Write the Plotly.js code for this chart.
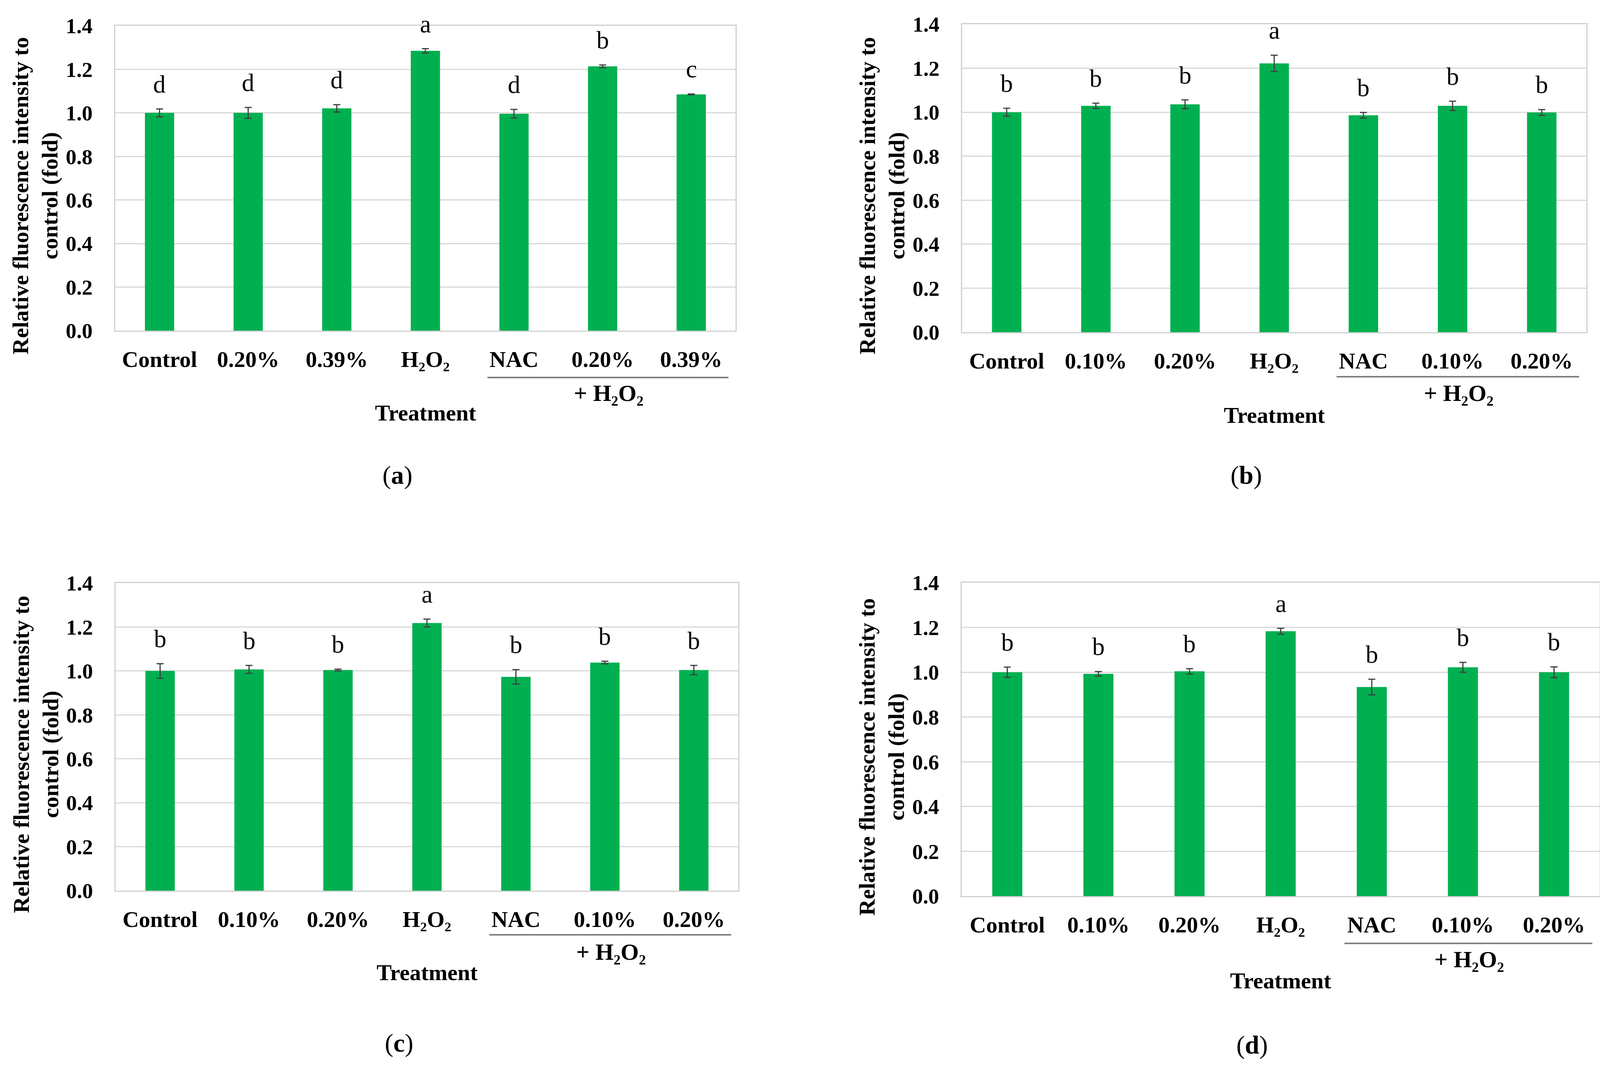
<!DOCTYPE html>
<html><head><meta charset="utf-8">
<script src="https://cdn.plot.ly/plotly-3.0.1.min.js"></script>
<style>html,body{margin:0;padding:0;background:#fff}</style>
</head><body><div id="chart" style="width:4130px;height:2738px"></div>
<script>
// ---------- data ----------
const labelsA = ['Control','0.20%','0.39%','H₂O₂','NAC','0.20%','0.39%'];
const labelsBCD = ['Control','0.10%','0.20%','H₂O₂','NAC','0.10%','0.20%'];

const valuesA = [1.00, 1.00, 1.021, 1.285, 0.996, 1.214, 1.085];
const errorsA = [0.018, 0.025, 0.017, 0.010, 0.020, 0.006, 0.002];
const lettersA = ['d','d','d','a','d','b','c'];

const valuesB = [1.00, 1.029, 1.036, 1.222, 0.986, 1.029, 0.999];
const errorsB = [0.018, 0.012, 0.020, 0.037, 0.013, 0.021, 0.013];
const lettersB = ['b','b','b','a','b','b','b'];

const valuesC = [1.00, 1.007, 1.004, 1.218, 0.973, 1.038, 1.004];
const errorsC = [0.033, 0.018, 0.004, 0.018, 0.033, 0.006, 0.021];
const lettersC = ['b','b','b','a','b','b','b'];

const valuesD = [1.00, 0.993, 1.004, 1.183, 0.934, 1.022, 1.00];
const errorsD = [0.023, 0.010, 0.012, 0.013, 0.035, 0.022, 0.024];
const lettersD = ['b','b','b','a','b','b','b'];

const yTitle = 'Relative fluorescence intensity to<br>control (fold)';
const groupLabel = '+ H₂O₂';
const xTitle = 'Treatment';
const panelTags = ['a','b','c','d'];

// ---------- layout config (pixel boxes) ----------
const W = 4130, H = 2738;
const panels = [
  {vals: valuesA, errs: errorsA, lets: lettersA, labs: labelsA,
   l: 295, r: 1883, t: 66, b: 846, line: 120, grp: 160, ttl: 210, tag: 370},
  {vals: valuesB, errs: errorsB, lets: lettersB, labs: labelsBCD,
   l: 2463, r: 4061, t: 62, b: 850, line: 114, grp: 156, ttl: 212, tag: 366},
  {vals: valuesC, errs: errorsC, lets: lettersC, labs: labelsBCD,
   l: 296, r: 1890, t: 1492, b: 2279, line: 113, grp: 157, ttl: 209, tag: 390},
  {vals: valuesD, errs: errorsD, lets: lettersD, labs: labelsBCD,
   l: 2462, r: 4095, t: 1491, b: 2293, line: 121, grp: 162, ttl: 216, tag: 381}
];
const px = p => p / W;
const py = p => 1 - p / H;

const FONT = 'Liberation Serif, DejaVu Serif, serif';
const GREEN = '#00B050';
const GRID = '#d9d9d9';

const traces = [];
const layout = {
  width: W, height: H,
  margin: {l: 0, r: 0, t: 0, b: 0},
  paper_bgcolor: '#ffffff', plot_bgcolor: '#ffffff',
  showlegend: false,
  font: {family: FONT, color: '#000000'},
  annotations: [], shapes: []
};

panels.forEach((p, i) => {
  const sfx = i === 0 ? '' : String(i + 1);
  const xa = 'x' + sfx, ya = 'y' + sfx;
  const idx = p.vals.map((_, k) => k);
  traces.push({
    type: 'bar', x: idx, y: p.vals, xaxis: xa, yaxis: ya,
    width: 0.33,
    marker: {color: GREEN, line: {width: 0}},
    error_y: {type: 'data', array: p.errs, visible: true, color: '#404040', thickness: 3, width: 9},
    hoverinfo: 'skip'
  });
  layout['xaxis' + sfx] = {
    domain: [px(p.l), px(p.r)], anchor: ya,
    range: [-0.5, 6.5], tickmode: 'array', tickvals: idx, ticktext: p.labs,
    ticks: '', showgrid: false, zeroline: false,
    showline: true, mirror: true, linecolor: '#d0d0d0', linewidth: 3,
    tickfont: {family: FONT, size: 58, color: '#000', weight: 'bold'},
    ticklabelstandoff: 20, fixedrange: true
  };
  layout['yaxis' + sfx] = {
    domain: [py(p.b), py(p.t)], anchor: xa,
    range: [0, 1.4], dtick: 0.2, tick0: 0, tickformat: '.1f',
    ticks: '', showgrid: true, gridcolor: GRID, gridwidth: 3, zeroline: false,
    showline: true, mirror: true, linecolor: '#d0d0d0', linewidth: 3,
    tickfont: {family: FONT, size: 55, color: '#000', weight: 'bold'},
    ticklabelstandoff: 44, fixedrange: true
  };
  // significance letters
  p.vals.forEach((v, k) => {
    layout.annotations.push({
      xref: xa, yref: ya, x: k, y: v + p.errs[k], yanchor: 'bottom', yshift: 26,
      text: p.lets[k], showarrow: false, font: {family: FONT, size: 64, color: '#000'}
    });
  });
  // y title
  layout.annotations.push({
    xref: 'paper', yref: 'paper', x: px(p.l - 205), y: py((p.t + p.b) / 2 + 45),
    xanchor: 'center', yanchor: 'middle', textangle: -90,
    text: '<b>' + yTitle.replace('<br>', '</b><br><b>') + '</b>', showarrow: false,
    font: {family: FONT, size: 58, color: '#000'}
  });
  // group line + label
  layout.shapes.push({
    type: 'line', xref: xa, yref: 'paper', x0: 3.7, x1: 6.42,
    y0: py(p.b + p.line), y1: py(p.b + p.line),
    line: {color: '#7f7f7f', width: 4}
  });
  layout.annotations.push({
    xref: xa, yref: 'paper', x: 5.07, y: py(p.b + p.grp), xanchor: 'center', yanchor: 'middle',
    text: '<b>' + groupLabel + '</b>', showarrow: false, font: {family: FONT, size: 60, color: '#000'}
  });
  // x title
  layout.annotations.push({
    xref: 'paper', yref: 'paper', x: px((p.l + p.r) / 2), y: py(p.b + p.ttl), xanchor: 'center', yanchor: 'middle',
    text: '<b>' + xTitle + '</b>', showarrow: false, font: {family: FONT, size: 58, color: '#000'}
  });
  // panel tag
  layout.annotations.push({
    xref: 'paper', yref: 'paper', x: px(p.l + 0.455 * (p.r - p.l)), y: py(p.b + p.tag), xanchor: 'center', yanchor: 'middle',
    text: '(<b>' + panelTags[i] + '</b>)', showarrow: false, font: {family: FONT, size: 66, color: '#000'}
  });
});

Plotly.newPlot('chart', traces, layout, {displayModeBar: false, staticPlot: true});
</script>
</body></html>
